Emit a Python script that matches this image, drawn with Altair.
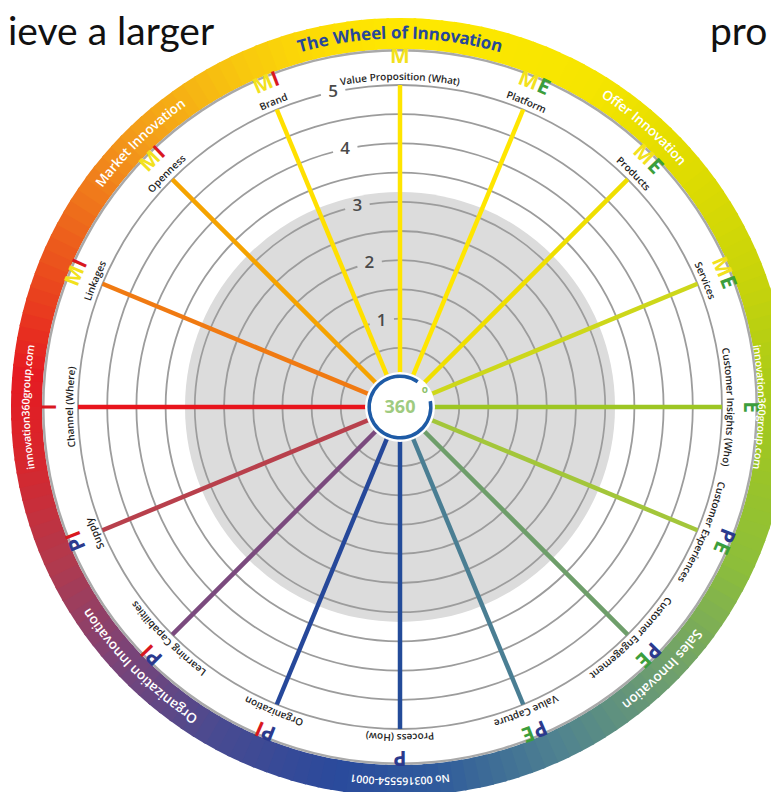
import math
import numpy as np
import pandas as pd
import altair as alt

# ---------------- layout constants (style) ----------------
W, H = 763, 784            # plot size
CX, CY = 392, 399          # wheel centre inside the plot
R0, STEP = 30.0, 58.4      # pixel radius of level 0 and size of one level


def lv(px):
    """pixel radius -> level units of the radius scale"""
    return (px - R0) / STEP


# ---------------- data ----------------
dimensions = ["Value Proposition (What)", "Platform", "Products", "Services",
              "Customer Insights (Who)", "Customer Experiences", "Customer Engagement", "Value Capture",
              "Process (How)", "Organization", "Learning Capabilities", "Supply",
              "Channel (Where)", "Linkages", "Openness", "Brand"]
dimension_codes = ["M", "ME", "ME", "ME", "E", "PE", "PE", "PE",
                   "P", "PI", "PI", "PI", "I", "MI", "MI", "MI"]
dimension_angles = [0, 22.5, 45, 67.5, 90, 112.5, 135, 157.5,
                    180, 202.5, 225, 247.5, 270, 292.5, 315, 337.5]
spoke_levels = [5, 5, 5, 5, 5, 5, 5, 5, 5, 5, 5, 5, 5, 5, 5, 5]
spoke_colors = ["#FFE500", "#FFE600", "#EFDF00", "#CDD71A", "#9DC623", "#A3C63A", "#6E9E6A", "#4A7E93",
                "#234B99", "#26489A", "#7B4A7E", "#B8404C", "#E8141C", "#F07A12", "#F5A300", "#FFE000"]
code_colors = {"M": "#F2E11C", "E": "#3C9E3C", "P": "#2B3A8E", "I": "#D9181F"}

level_ticks = [1, 2, 3, 4, 5]
ring_levels = [0.5, 1.0, 1.5, 2.0, 2.5, 3.0, 3.5, 4.0, 4.5, 5.0]

sector_titles = ["Offer Innovation", "Sales Innovation", "Organization Innovation", "Market Innovation"]
sector_angles = [41.1, 135.0, 225.1, 315.5]
rim_notes = ["innovation360group.com", "No 003165554-0001", "innovation360group.com"]
rim_note_angles = [90, 180, 270]
wheel_title = "The Wheel of Innovation"

rim_stop_angles = [0, 30, 50, 70, 90, 115, 135, 155, 175, 190, 210, 228, 245, 262, 275, 295, 315, 335, 350, 360]
rim_stop_colors = ["#FFE800", "#F6E500", "#E0DC00", "#C8D40A", "#A4C91C", "#8DBE3A", "#6E9F6E", "#4F8290",
                   "#2F5A9C", "#2A4A9C", "#4A4A90", "#7A4478", "#B03A4E", "#D8262C", "#E51B22", "#EC5A1C",
                   "#F39A1A", "#F8C80E", "#FDE003", "#FFE800"]

slide_texts = ["ieve a larger", "pro"]
slide_x = [-392, 310]
slide_y = [362, 362]

# ---------------- style radii (in level units) ----------------
GRAY_R = lv(215)
RIM_IN, RIM_OUT = lv(358), lv(389)
RIM_LINE = lv(355.5)
RIM_TEXT_R = lv(373.5)
RIGHT_NOTE_R = lv(361)     # the right-hand note sits a little inwards so it stays on the page
LABEL_R = lv(330)
CODE_R = lv(350)

# ---------------- helpers ----------------
OPEN = {'a': .556, 'b': .613, 'c': .48, 'd': .613, 'e': .561, 'f': .336, 'g': .548, 'h': .614, 'i': .258,
        'j': .258, 'k': .524, 'l': .258, 'm': .93, 'n': .614, 'o': .602, 'p': .613, 'q': .613, 'r': .408,
        's': .478, 't': .353, 'u': .614, 'v': .501, 'w': .778, 'x': .524, 'y': .501, 'z': .468,
        'A': .633, 'B': .648, 'C': .631, 'D': .729, 'E': .556, 'F': .516, 'G': .728, 'H': .738, 'I': .279,
        'J': .267, 'K': .614, 'L': .519, 'M': .903, 'N': .754, 'O': .779, 'P': .603, 'Q': .779, 'R': .618,
        'S': .549, 'T': .553, 'U': .728, 'V': .593, 'W': .93, 'X': .577, 'Y': .556, 'Z': .572,
        ' ': .26, '(': .296, ')': .296, '.': .267, '-': .322}


def em(c):
    if c.isdigit():
        return 0.572
    return OPEN.get(c, 0.55)


def arc_chars(text, center_deg, lvl, size, mult, colors):
    r_px = R0 + STEP * lvl
    widths = [em(c) * size * mult for c in text]
    pos = -sum(widths) / 2
    rows = []
    for i, (c, w) in enumerate(zip(text, widths)):
        mid = pos + w / 2
        pos += w
        if c == " ":
            continue
        t = (center_deg + math.degrees(mid / r_px)) % 360
        col = colors[i] if isinstance(colors, list) else colors
        rows.append(dict(ch=c, t=t, rot=t, r=lvl, color=col))
    return pd.DataFrame(rows)


tscale = alt.Scale(type="linear", domain=[0, 360], range=[0, 2 * math.pi], zero=False, nice=False)
rscale = alt.Scale(type="linear", domain=[0, 5], range=[R0, R0 + 5 * STEP], zero=False, nice=False)
xscale = alt.Scale(domain=[-CX, W - CX], nice=False, zero=False)
yscale = alt.Scale(domain=[-(H - CY), CY], nice=False, zero=False)


def arc_layer(df, **mark):
    return alt.Chart(df).mark_arc(**mark).encode(
        theta=alt.Theta("t0:Q", scale=tscale, stack=False),
        theta2="t1:Q",
        radius=alt.Radius("ro:Q", scale=rscale),
        radius2="ri:Q",
        x=alt.value(CX), y=alt.value(CY))


def text_layer(df, **mark):
    return alt.Chart(df).mark_text(align="center", baseline="middle", **mark).encode(
        theta=alt.Theta("t:Q", scale=tscale, stack=False),
        radius=alt.Radius("r:Q", scale=rscale),
        text="ch:N",
        angle=alt.Angle("rot:Q", scale=None),
        color=alt.Color("color:N", scale=None),
        x=alt.value(CX), y=alt.value(CY))


# ---------------- layers ----------------
seg = np.arange(0, 360, 2)
rim_df = pd.DataFrame({"t0": seg, "t1": seg + 2.4, "mid": seg + 1.0, "ro": RIM_OUT, "ri": RIM_IN})
rim = alt.Chart(rim_df).mark_arc().encode(
    theta=alt.Theta("t0:Q", scale=tscale, stack=False),
    theta2="t1:Q",
    radius=alt.Radius("ro:Q", scale=rscale),
    radius2="ri:Q",
    color=alt.Color("mid:Q", scale=alt.Scale(domain=rim_stop_angles, range=rim_stop_colors, interpolate="rgb"),
                    legend=None),
    x=alt.value(CX), y=alt.value(CY))

rim_line = arc_layer(pd.DataFrame({"t0": [0], "t1": [360], "ro": [RIM_IN], "ri": [RIM_LINE]}), color="#A9A9A9")
gray_disk = arc_layer(pd.DataFrame({"t0": [0], "t1": [360], "ro": [GRAY_R], "ri": [lv(0)]}), color="#DCDCDC")

hw = 0.9 / STEP
rings = arc_layer(pd.DataFrame({"t0": 0, "t1": 360,
                                "ro": [l + hw for l in ring_levels],
                                "ri": [l - hw for l in ring_levels]}), color="#9C9C9C")

gap_rows = []
for l in level_ticks:
    d = math.degrees(12.5 / (R0 + STEP * l))
    gap_rows.append(dict(t0=348 - d, t1=348 + d, ro=l + 0.07, ri=l - 0.07,
                         bg="#DCDCDC" if l < GRAY_R else "#FFFFFF"))
gaps = alt.Chart(pd.DataFrame(gap_rows)).mark_arc().encode(
    theta=alt.Theta("t0:Q", scale=tscale, stack=False), theta2="t1:Q",
    radius=alt.Radius("ro:Q", scale=rscale), radius2="ri:Q",
    color=alt.Color("bg:N", scale=None), x=alt.value(CX), y=alt.value(CY))

numbers = alt.Chart(pd.DataFrame({"t": 348, "r": level_ticks, "ch": [str(l) for l in level_ticks]})).mark_text(
    align="center", baseline="middle", font="Open Sans", fontSize=17, fontWeight=600, color="#4A4A4A").encode(
    theta=alt.Theta("t:Q", scale=tscale, stack=False),
    radius=alt.Radius("r:Q", scale=rscale),
    text="ch:N", x=alt.value(CX), y=alt.value(CY))

spoke_df = pd.DataFrame({"angle": dimension_angles, "level": spoke_levels, "color": spoke_colors,
                         "x0": 0.0, "y0": 0.0})
spokes = alt.Chart(spoke_df).transform_calculate(
    x2=f"({R0} + {STEP} * datum.level) * sin(datum.angle * PI / 180)",
    y2=f"({R0} + {STEP} * datum.level) * cos(datum.angle * PI / 180)",
).mark_rule(strokeWidth=4.5, strokeCap="butt").encode(
    x=alt.X("x0:Q", scale=xscale, axis=None),
    y=alt.Y("y0:Q", scale=yscale, axis=None),
    x2="x2:Q", y2="y2:Q",
    color=alt.Color("color:N", scale=None))

center_disk = arc_layer(pd.DataFrame({"t0": [0], "t1": [360], "ro": [lv(35)], "ri": [lv(0)]}),
                        color="#FFFFFF")
center_ring = arc_layer(pd.DataFrame({"t0": [79], "t1": [395], "ro": [lv(32.6)], "ri": [lv(29.1)]}),
                        color="#1E5BA6")
center_text = alt.Chart(pd.DataFrame({"ch": ["360"]})).mark_text(
    align="center", baseline="middle", font="Open Sans", fontSize=18, fontWeight="bold",
    color="#9FCB80").encode(text="ch:N", x=alt.value(CX), y=alt.value(CY + 1))
degree = alt.Chart(pd.DataFrame({"t": [56], "r": [0.0], "ch": ["o"]})).mark_text(
    align="center", baseline="middle", font="Open Sans", fontSize=10, fontWeight="bold",
    color="#8DC26A").encode(theta=alt.Theta("t:Q", scale=tscale, stack=False),
                            radius=alt.Radius("r:Q", scale=rscale), text="ch:N",
                            x=alt.value(CX), y=alt.value(CY))

label_df = pd.concat([arc_chars(n, a, LABEL_R, 10, 1.04, "#1E1E1E")
                      for n, a in zip(dimensions, dimension_angles)], ignore_index=True)
labels = text_layer(label_df, font="Open Sans", fontSize=10, fontWeight=600)

code_df = pd.concat([arc_chars(c, a, CODE_R, 21, 1.07, [code_colors[k] for k in c])
                     for c, a in zip(dimension_codes, dimension_angles)], ignore_index=True)
codes = text_layer(code_df, font="Open Sans", fontSize=21, fontWeight="bold")

sector_df = pd.concat([arc_chars(s, a, RIM_TEXT_R, 13.5, 1.035, "#FFFFFF")
                       for s, a in zip(sector_titles, sector_angles)], ignore_index=True)
sectors = text_layer(sector_df, font="Open Sans", fontSize=13.5, fontWeight=600)

note_df = pd.concat([arc_chars(s, a, RIGHT_NOTE_R if a == 90 else RIM_TEXT_R, 10.6, 1.0, "#FFFFFF")
                     for s, a in zip(rim_notes, rim_note_angles)], ignore_index=True)
notes = text_layer(note_df, font="Open Sans", fontSize=10.6, fontWeight=600)

title_df = arc_chars(wheel_title, 0, RIM_TEXT_R, 17, 1.07, "#27479A")
title = text_layer(title_df, font="Open Sans", fontSize=17, fontWeight="bold")

slide_df = pd.DataFrame({"ch": slide_texts, "x": slide_x, "y": slide_y})
slide = alt.Chart(slide_df).mark_text(
    align="left", baseline="alphabetic", font="Lato", fontSize=39, color="#111111").encode(
    x=alt.X("x:Q", scale=xscale, axis=None), y=alt.Y("y:Q", scale=yscale, axis=None), text="ch:N")

chart = alt.layer(
    rim, rim_line, gray_disk, rings, gaps, numbers, spokes,
    center_disk, center_ring, center_text, degree,
    labels, codes, sectors, notes, title, slide,
).properties(
    width=W, height=H, padding=0, autosize=alt.AutoSizeParams(type="none"),
    background="#FFFFFF",
).configure_view(strokeWidth=0)

chart.save("out.html", embed_options={"renderer": "svg", "actions": False})
